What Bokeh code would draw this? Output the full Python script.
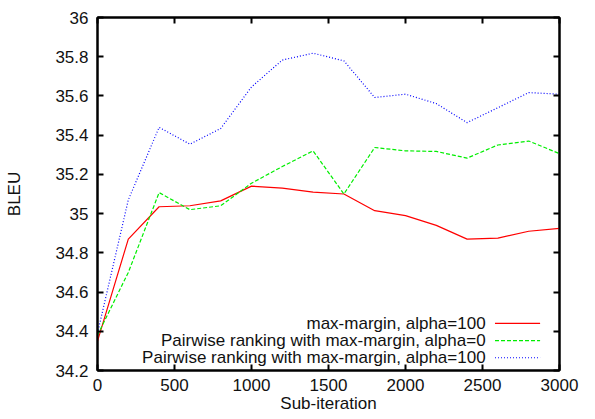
from bokeh.plotting import figure
from bokeh.models import LinearAxis, FixedTicker, CustomJSTickFormatter, Range1d, Label
from bokeh.embed import file_html
from bokeh.resources import INLINE

# ---- data ----
sub_iter = [0, 200, 400, 600, 800, 1000, 1200, 1400, 1600, 1800, 2000, 2200, 2400, 2600, 2800, 3000]
mm_alpha100 = [34.35, 34.87, 35.035, 35.04, 35.065, 35.14, 35.13, 35.11, 35.10, 35.015, 34.99, 34.94, 34.87, 34.875, 34.91, 34.925]
pw_alpha0 = [34.38, 34.70, 35.107, 35.02, 35.04, 35.155, 35.24, 35.32, 35.10, 35.337, 35.32, 35.317, 35.283, 35.35, 35.37, 35.306]
pw_alpha100 = [34.39, 35.07, 35.44, 35.354, 35.434, 35.646, 35.783, 35.818, 35.779, 35.592, 35.609, 35.561, 35.464, 35.54, 35.617, 35.609]
x_ticks = [0, 500, 1000, 1500, 2000, 2500, 3000]
y_ticks = [34.2, 34.4, 34.6, 34.8, 35.0, 35.2, 35.4, 35.6, 35.8, 36.0]
labels = ["max-margin, alpha=100",
          "Pairwise ranking with max-margin, alpha=0",
          "Pairwise ranking with max-margin, alpha=100"]
colors = ["#ff0000", "#00ee00", "#0000ff"]
dashes = ["solid", "4 2", "1 2"]
x_title = "Sub-iteration"
y_title = "BLEU"

FONT = "Liberation Sans"
FS = "17px"

p = figure(width=595, height=419, output_backend="svg", toolbar_location=None,
           x_range=Range1d(0, 3000), y_range=Range1d(34.2, 36.0),
           min_border_left=97, min_border_top=17, min_border_right=36, min_border_bottom=49)
p.background_fill_color = "white"
p.border_fill_color = "white"
p.grid.visible = False
p.outline_line_color = "black"
p.outline_line_width = 2

fmt = CustomJSTickFormatter(code="return String(Math.round(tick*10)/10);")
blank = CustomJSTickFormatter(code="return '';")

def style_axis(ax, ticks, show_labels):
    ax.ticker = FixedTicker(ticks=ticks)
    ax.major_tick_in = 6
    ax.major_tick_out = 0
    ax.minor_tick_line_color = None
    ax.major_tick_line_width = 2
    ax.axis_line_width = 2
    ax.axis_line_color = "black"
    ax.major_tick_line_color = "black"
    ax.major_label_text_font = FONT
    ax.major_label_text_color = "#111111"
    ax.major_label_text_font_size = FS
    ax.axis_label_text_font = FONT
    ax.axis_label_text_font_style = "normal"
    ax.axis_label_text_color = "#111111"
    ax.axis_label_text_font_size = FS
    if show_labels:
        ax.formatter = fmt
    else:
        ax.formatter = blank
        ax.major_label_standoff = 0

style_axis(p.xaxis[0], x_ticks, True)
style_axis(p.yaxis[0], y_ticks, True)
p.xaxis[0].axis_label = x_title
p.yaxis[0].axis_label = y_title
p.xaxis[0].major_label_standoff = 8
p.xaxis[0].axis_label_standoff = 0
p.yaxis[0].major_label_standoff = 9
p.yaxis[0].axis_label_standoff = 28

top = LinearAxis()
right = LinearAxis()
style_axis(top, x_ticks, False)
style_axis(right, y_ticks, False)
p.add_layout(top, "above")
p.add_layout(right, "right")

series = [mm_alpha100, pw_alpha0, pw_alpha100]
for ys, c, d in zip(series, colors, dashes):
    p.line(sub_iter, ys, line_color=c, line_width=1.2, line_dash=d)

# manual gnuplot-style legend (text right-aligned, sample line on the right)
leg_x0, leg_x1, leg_text_x = 2581, 2874, 2520
leg_y = [34.44, 34.352, 34.265]
for lab, c, d, yy in zip(labels, colors, dashes, leg_y):
    p.segment(x0=[leg_x0], y0=[yy], x1=[leg_x1], y1=[yy], line_color=c, line_width=1.2, line_dash=d)
    p.add_layout(Label(x=leg_text_x, y=yy, text=lab, text_align="right", text_baseline="middle",
                       text_font=FONT, text_font_size=FS, text_color="#111111"))

open("out.html", "w").write(file_html(p, INLINE))
